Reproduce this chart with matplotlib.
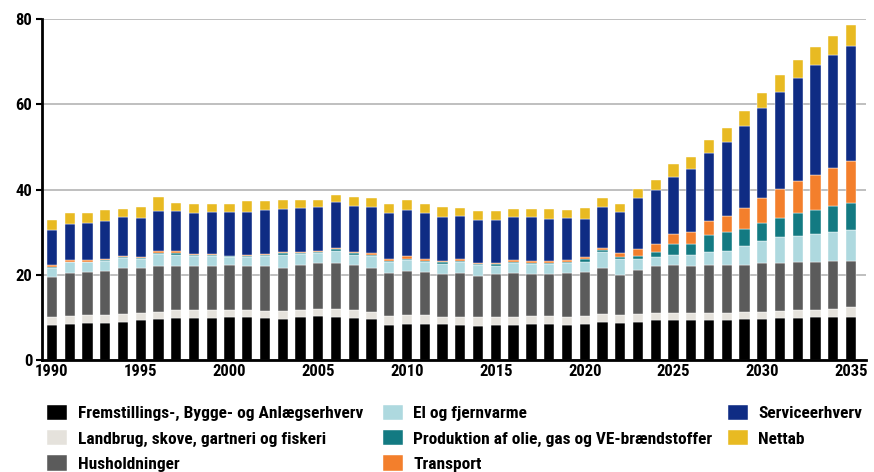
import matplotlib
matplotlib.use("Agg")
import matplotlib.pyplot as plt
from matplotlib import font_manager
import numpy as np

# pick a narrow bold font if there is one
names = {f.name for f in font_manager.fontManager.ttflist}
fam = "DejaVu Sans"
for cand in ["Roboto Condensed", "Liberation Sans Narrow", "Roboto"]:
    if cand in names:
        fam = cand
        break
plt.rcParams["font.family"] = [fam, "DejaVu Sans"]

years = list(range(1990, 2036))

fremstilling = [8.2, 8.5, 8.8, 8.8, 9.0, 9.3, 9.6, 9.8, 9.8, 9.8,
                10.0, 10.0, 9.8, 9.6, 10.0, 10.4, 10.0, 9.8, 9.6, 8.2,
                8.5, 8.5, 8.5, 8.2, 8.0, 8.2, 8.2, 8.5, 8.5, 8.2,
                8.5, 9.0, 8.8, 9.0, 9.3, 9.3, 9.3, 9.3, 9.3, 9.6,
                9.6, 9.8, 9.8, 10.0, 10.2, 10.2]
landbrug = [1.8, 1.9, 1.8, 1.8, 1.8, 1.7, 1.7, 2.0, 2.0, 2.0,
            1.8, 1.8, 1.7, 1.9, 1.8, 1.5, 1.9, 2.0, 1.8, 2.2,
            2.1, 2.1, 1.7, 1.8, 2.0, 1.8, 1.8, 1.9, 1.9, 1.8,
            1.9, 1.8, 1.8, 1.8, 1.7, 1.7, 1.7, 1.7, 1.7, 1.6,
            1.6, 1.7, 2.0, 1.8, 1.8, 2.2]
husholdninger = [9.6, 10.0, 10.0, 10.3, 10.7, 10.5, 10.7, 10.2, 10.2, 10.2,
                 10.4, 10.2, 10.5, 10.2, 10.4, 10.8, 10.8, 10.4, 10.3, 10.0,
                 10.3, 10.1, 10.0, 10.4, 9.8, 10.2, 10.4, 9.8, 9.8, 10.4,
                 10.3, 10.9, 9.3, 10.4, 11.0, 11.2, 11.0, 11.2, 11.2, 11.2,
                 11.5, 11.2, 11.2, 11.2, 11.2, 10.8]
el_fjernvarme = [2.1, 2.5, 2.3, 2.3, 2.4, 2.3, 2.9, 2.7, 2.5, 2.5,
                 1.9, 2.2, 2.5, 2.9, 2.7, 2.4, 2.8, 2.5, 2.6, 2.5,
                 2.5, 2.2, 2.3, 2.5, 2.4, 1.8, 2.3, 2.3, 2.3, 2.3,
                 2.4, 3.6, 3.8, 2.5, 2.2, 2.5, 2.7, 3.1, 3.5, 4.3,
                 5.3, 6.1, 6.0, 6.6, 6.8, 7.2]
produktion = [0.2, 0.2, 0.2, 0.3, 0.3, 0.2, 0.3, 0.4, 0.2, 0.2,
              0.2, 0.2, 0.2, 0.4, 0.3, 0.3, 0.5, 0.3, 0.3, 0.4,
              0.4, 0.4, 0.4, 0.4, 0.3, 0.5, 0.4, 0.3, 0.3, 0.4,
              0.5, 0.5, 0.5, 0.8, 1.1, 2.6, 2.6, 4.0, 4.3, 4.1,
              4.1, 4.5, 5.4, 5.5, 6.2, 6.5]
transport = [0.4, 0.4, 0.4, 0.3, 0.3, 0.2, 0.4, 0.5, 0.2, 0.2,
             0.2, 0.2, 0.2, 0.3, 0.2, 0.2, 0.4, 0.3, 0.5, 0.5,
             0.5, 0.5, 0.4, 0.5, 0.3, 0.2, 0.4, 0.4, 0.4, 0.4,
             0.5, 0.5, 0.9, 1.5, 2.0, 2.3, 2.7, 3.3, 3.9, 4.8,
             5.8, 6.9, 7.6, 8.4, 8.8, 9.7]
service = [8.3, 8.3, 8.6, 8.8, 9.1, 9.1, 9.4, 9.3, 9.5, 9.8,
           10.2, 10.1, 10.2, 10.2, 10.3, 10.3, 10.6, 10.9, 10.8, 10.7,
           10.8, 10.6, 10.3, 10.1, 10.1, 10.2, 10.1, 10.4, 10.0, 9.9,
           9.1, 9.6, 9.6, 11.9, 12.5, 13.4, 14.9, 16.0, 17.2, 19.3,
           21.1, 22.6, 24.2, 25.7, 26.5, 27.1]
nettab = [2.3, 2.6, 2.3, 2.5, 1.9, 2.6, 3.3, 2.0, 2.3, 1.8,
          2.0, 2.6, 2.2, 2.0, 1.8, 1.6, 1.8, 2.1, 2.1, 2.2,
          2.5, 2.1, 2.3, 1.8, 2.0, 2.0, 1.9, 1.9, 2.3, 1.7,
          2.5, 2.1, 1.8, 2.3, 2.5, 2.9, 2.7, 3.1, 3.4, 3.6,
          3.6, 4.1, 4.2, 4.3, 4.6, 4.9]

labels = ["Fremstillings-, Bygge- og Anlægserhverv",
          "Landbrug, skove, gartneri og fiskeri",
          "Husholdninger",
          "El og fjernvarme",
          "Produktion af olie, gas og VE-brændstoffer",
          "Transport",
          "Serviceerhverv",
          "Nettab"]
colors = ["#000000", "#e5e2dc", "#5b5b5b", "#aed9df",
          "#137a82", "#f37f2c", "#0f2c84", "#e8ba22"]
series = [fremstilling, landbrug, husholdninger, el_fjernvarme,
          produktion, transport, service, nettab]

fig = plt.figure(figsize=(8.74, 4.72), dpi=100)
ax = fig.add_axes([0.048, 0.237, 0.943, 0.723])

bottom = np.zeros(len(years))
handles = []
for vals, col, lab in zip(series, colors, labels):
    h = ax.bar(years, vals, width=0.58, bottom=bottom, color=col,
               edgecolor="white", linewidth=0.3, label=lab, zorder=3)
    handles.append(h)
    bottom += np.array(vals)

ax.set_ylim(0, 80)
ax.set_xlim(1989.44, 2035.85)
ax.set_yticks([0, 20, 40, 60, 80])
ax.set_xticks(list(range(1990, 2036, 5)))
ax.yaxis.grid(True, color="#b4b4b4", linewidth=1.2, zorder=0)
ax.set_axisbelow(True)

for s in ["top", "right"]:
    ax.spines[s].set_visible(False)
for s in ["left", "bottom"]:
    ax.spines[s].set_linewidth(2)
    ax.spines[s].set_color("black")
    ax.spines[s].set_zorder(4)

ax.tick_params(axis="y", length=4, width=1.5, pad=3, labelsize=12)
ax.tick_params(axis="x", length=0, pad=3, labelsize=12)
for t in ax.get_xticklabels() + ax.get_yticklabels():
    t.set_fontweight("bold")

# three legend columns placed where the reference has them
col_x = [0.054, 0.438, 0.833]
groups = [(0, 3), (3, 6), (6, 8)]
for x0, (a, b) in zip(col_x, groups):
    fig.legend(handles=handles[a:b], labels=labels[a:b], loc="upper left",
               bbox_to_anchor=(x0, 0.143), frameon=False,
               prop={"weight": "bold", "size": 12.5},
               handlelength=1.15, handleheight=1.0, handletextpad=0.6,
               labelspacing=0.5, borderaxespad=0, borderpad=0)

fig.savefig("out.png", dpi=100)
